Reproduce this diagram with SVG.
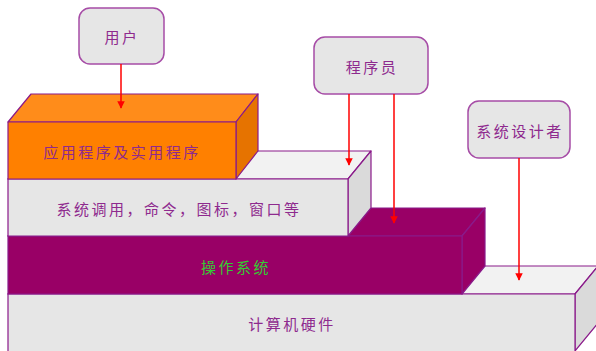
<svg xmlns="http://www.w3.org/2000/svg" width="596" height="351" viewBox="0 0 596 351">
<defs>
<style>
.edge{stroke:#8A1A8A;stroke-width:1.2;stroke-linejoin:round}
.gf{fill:#E6E6E6}.gt{fill:#F2F2F2}.gr{fill:#DADADA}
.pf{fill:#990066}
.of{fill:#FF8000}.ot{fill:#FF8C1A}.or{fill:#E67300}
.lbl{font-family:"Noto Sans CJK SC","Noto Sans",sans-serif;font-size:15px;fill:#8E2A8E;text-anchor:middle;dominant-baseline:central;letter-spacing:2.5px}
.role{fill:#E6E6E6;stroke:#A64CA6;stroke-width:1.5}
.arr{stroke:#FF0000;stroke-width:1.5;fill:none;marker-end:url(#ah)}
</style>
<marker id="ah" viewBox="0 0 10 10" refX="9" refY="5" markerWidth="5" markerHeight="5" orient="auto" markerUnits="strokeWidth">
<path d="M0,0 L10,5 L0,10 z" fill="#FF0000"/>
</marker>
</defs>
<g id="hardware">
<polygon class="gt edge" points="8,294 31,266 598,266 575,294"/>
<polygon class="gr edge" points="575,294 598,266 598,323 575,351"/>
<rect class="gf edge" x="8" y="294" width="567" height="60"/>
<text class="lbl" x="292" y="323">计算机硬件</text>
</g>
<g id="os">
<polygon class="pf edge" points="8,236 31,208 485,208 462,236"/>
<polygon class="pf edge" points="462,236 485,208 485,266 462,294"/>
<rect class="pf edge" x="8" y="236" width="454" height="58"/>
<text class="lbl" x="236" y="266" style="fill:#33CC33">操作系统</text>
</g>
<g id="syscalls">
<polygon class="gt edge" points="8,179 31,151 371,151 348,179"/>
<polygon class="gr edge" points="348,179 371,151 371,208 348,236"/>
<rect class="gf edge" x="8" y="179" width="340" height="57"/>
<text class="lbl" x="179" y="208">系统调用，命令，图标，窗口等</text>
</g>
<g id="apps">
<polygon class="ot edge" points="8,122 31,94 258,94 236,122"/>
<polygon class="or edge" points="236,122 258,94 258,151 236,179"/>
<rect class="of edge" x="8" y="122" width="228" height="57"/>
<text class="lbl" x="122" y="151">应用程序及实用程序</text>
</g>
<g id="user">
<rect class="role" x="79" y="8" width="85" height="56" rx="11"/>
<text class="lbl" x="122" y="36">用户</text>
</g>
<g id="programmer">
<rect class="role" x="314" y="37" width="114" height="57" rx="11"/>
<text class="lbl" x="372" y="66">程序员</text>
</g>
<g id="designer">
<rect class="role" x="468" y="101" width="102" height="57" rx="11"/>
<text class="lbl" x="520" y="130">系统设计者</text>
</g>
<g id="connectors">
<line class="arr" x1="121" y1="64" x2="121" y2="108"/>
<line class="arr" x1="349" y1="94" x2="349" y2="165"/>
<line class="arr" x1="394" y1="94" x2="394" y2="223"/>
<line class="arr" x1="519" y1="158" x2="519" y2="280"/>
</g>
</svg>
